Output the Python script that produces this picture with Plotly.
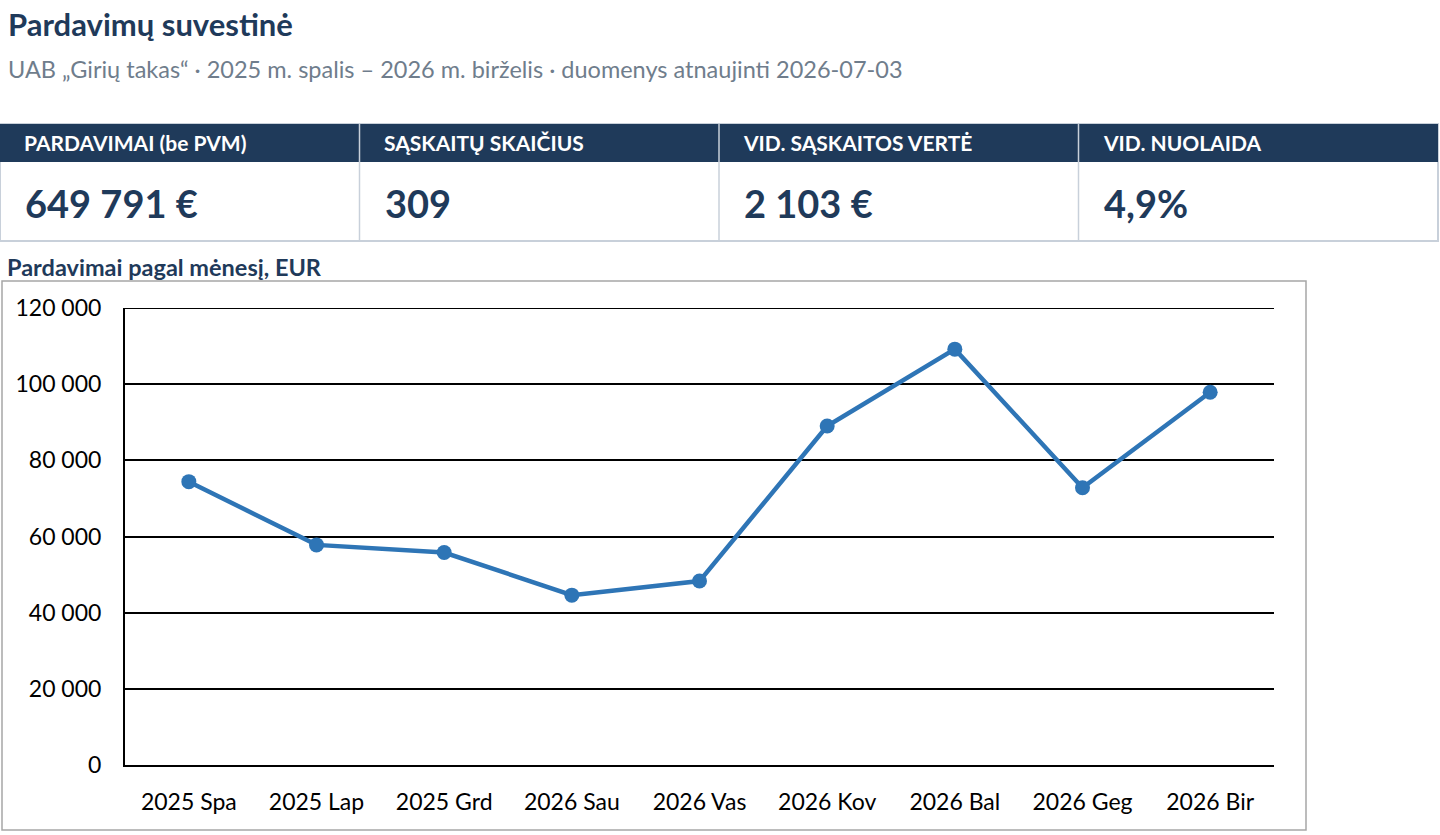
import plotly.graph_objects as go

# DATA
months = ["2025 Spa", "2025 Lap", "2025 Grd", "2026 Sau", "2026 Vas",
          "2026 Kov", "2026 Bal", "2026 Geg", "2026 Bir"]
sales = [74400, 57800, 55800, 44600, 48300, 89000, 109200, 72800, 97891]
y_ticks = [0, 20000, 40000, 60000, 80000, 100000, 120000]

kpi_labels = ["PARDAVIMAI (be PVM)", "SĄSKAITŲ SKAIČIUS",
              "VID. SĄSKAITOS VERTĖ", "VID. NUOLAIDA"]
kpi_values = ["649 791 €", "309", "2 103 €", "4,9%"]

title = "Pardavimų suvestinė"
subtitle = "UAB „Girių takas“ · 2025 m. spalis – 2026 m. birželis · duomenys atnaujinti 2026-07-03"
chart_title = "Pardavimai pagal mėnesį, EUR"

# STYLE
W, H = 1440, 835
NAVY = "#1f3a5a"
GREY_TXT = "#6f7d8c"
LINE_BLUE = "#2e75b6"
CELL_BORDER = "#c8d0da"
FONT = "Lato"


def px(x):
    return x / W


def py(y):
    return 1 - y / H


fig = go.Figure()

fig.add_trace(go.Scatter(
    x=months, y=sales,
    mode="lines+markers",
    line=dict(color=LINE_BLUE, width=4.5),
    marker=dict(color=LINE_BLUE, size=15),
    hovertemplate="%{x}: %{y:,.0f} EUR<extra></extra>",
))

shapes = []
annotations = []

# header titles
annotations.append(dict(
    x=px(6), y=py(24), xref="paper", yref="paper", text=f"<b>{title}</b>",
    showarrow=False, xanchor="left", yanchor="middle",
    font=dict(family=FONT, size=31, color=NAVY),
))
annotations.append(dict(
    x=px(6), y=py(69), xref="paper", yref="paper", text=subtitle,
    showarrow=False, xanchor="left", yanchor="middle",
    font=dict(family=FONT, size=23.5, color=GREY_TXT),
))

# KPI table
col_w = 1438 / len(kpi_labels)
top, mid, bot = 124, 162, 241
shapes.append(dict(type="rect", xref="paper", yref="paper",
                   x0=px(0), x1=px(1438), y0=py(bot), y1=py(top),
                   line=dict(color=CELL_BORDER, width=2), fillcolor="white", layer="below"))
shapes.append(dict(type="rect", xref="paper", yref="paper",
                   x0=px(0), x1=px(1438), y0=py(mid), y1=py(top),
                   line=dict(width=0), fillcolor=NAVY, layer="below"))
for i, (lab, val) in enumerate(zip(kpi_labels, kpi_values)):
    x0 = i * col_w
    if i > 0:
        shapes.append(dict(type="line", xref="paper", yref="paper",
                           x0=px(x0), x1=px(x0), y0=py(bot), y1=py(top),
                           line=dict(color=CELL_BORDER, width=1.5)))
    annotations.append(dict(
        x=px(x0 + 22), y=py(143), xref="paper", yref="paper", text=f"<b>{lab}</b>",
        showarrow=False, xanchor="left", yanchor="middle",
        font=dict(family=FONT, size=21, color="white"),
    ))
    annotations.append(dict(
        x=px(x0 + 23), y=py(203), xref="paper", yref="paper", text=f"<b>{val}</b>",
        showarrow=False, xanchor="left", yanchor="middle",
        font=dict(family=FONT, size=38, color=NAVY),
    ))

# chart section
annotations.append(dict(
    x=px(5), y=py(267), xref="paper", yref="paper", text=f"<b>{chart_title}</b>",
    showarrow=False, xanchor="left", yanchor="middle",
    font=dict(family=FONT, size=23.5, color=NAVY),
))
shapes.append(dict(type="rect", xref="paper", yref="paper",
                   x0=px(2), x1=px(1306), y0=py(830), y1=py(281),
                   line=dict(color="#a6a6a6", width=1.5), fillcolor="rgba(0,0,0,0)", layer="below"))
# top gridline (plotly drops the one sitting on the range edge)
shapes.append(dict(type="line", xref="x domain", yref="y",
                   x0=0, x1=1, y0=y_ticks[-1], y1=y_ticks[-1],
                   line=dict(color="black", width=2), layer="below"))

fig.update_layout(
    width=W, height=H,
    margin=dict(l=0, r=0, t=0, b=0, autoexpand=False),
    paper_bgcolor="white",
    plot_bgcolor="white",
    showlegend=False,
    separators=", ",
    font=dict(family=FONT, color="black"),
    shapes=shapes,
    annotations=annotations,
    xaxis=dict(
        domain=[px(125), px(1274)],
        type="category",
        range=[-0.5, len(months) - 0.5],
        showline=True, linecolor="black", linewidth=2,
        showgrid=False, ticks="",
        automargin=False,
        ticklabelstandoff=15,
        tickfont=dict(family=FONT, size=23, color="black"),
    ),
    yaxis=dict(
        domain=[py(765), py(308)],
        range=[0, y_ticks[-1]],
        tickvals=y_ticks,
        tickformat=",d",
        showline=True, linecolor="black", linewidth=2,
        showgrid=True, gridcolor="black", gridwidth=2,
        zeroline=False, ticks="",
        automargin=False,
        ticklabelstandoff=17,
        tickfont=dict(family=FONT, size=23, color="black"),
    ),
)

fig.write_html("out.html", config={"displayModeBar": False},
               post_script="document.body.style.margin = '0';")
